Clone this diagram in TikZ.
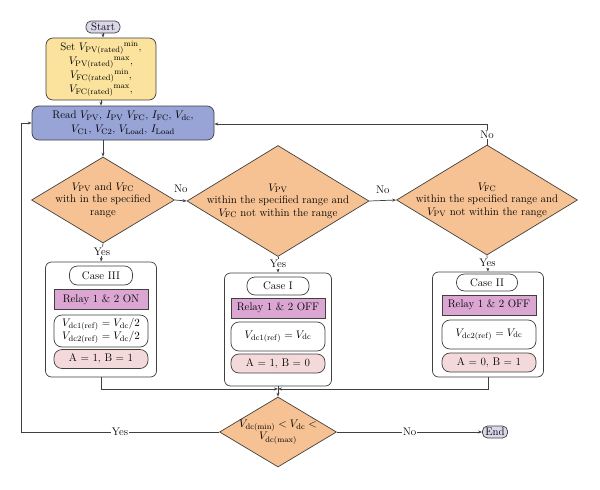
\documentclass[tikz,border=0pt]{standalone}
\usepackage{amsmath}
\usepackage{amssymb}
\usepackage{tikz}
\usetikzlibrary{shapes.geometric,arrows.meta,positioning}

\definecolor{termlav}{HTML}{DCD6EA}
\definecolor{setyellow}{HTML}{FBE39E}
\definecolor{readblue}{HTML}{98A3D6}
\definecolor{decorange}{HTML}{F6C293}
\definecolor{relaypink}{HTML}{DBA6D2}
\definecolor{abpink}{HTML}{F3D9D9}

\begin{document}
\begin{tikzpicture}[x=1pt,y=-1pt,font=\fontsize{11}{12.5}\selectfont,
	line/.style={draw=black!75,line width=0.7pt},
	arr/.style={line,-{Stealth[length=4pt,width=3pt]}},
	term/.style={line,fill=termlav,rounded corners=5pt,minimum width=34pt,minimum height=12pt,inner sep=0pt},
	dec/.style={line,diamond,fill=decorange,inner sep=0pt},
	dtext/.style={align=center,inner sep=0pt},
	casebox/.style={line,rounded corners=6pt,fill=white},
	caselbl/.style={line,rounded corners=8pt,inner sep=0pt},
	relay/.style={line,fill=relaypink,inner sep=0pt,minimum width=94pt,minimum height=20pt},
	eqbox/.style={line,rounded corners=8pt,inner sep=0pt,minimum width=94pt,align=center},
	abbox/.style={line,fill=abpink,rounded corners=8pt,inner sep=0pt,minimum width=94pt,minimum height=19pt},
	lbl/.style={fill=white,inner sep=1pt}]
	\useasboundingbox (0,0) rectangle (600,490);
	
	% Start, settings, reading
	\node[term] (start) at (103,27) {Start};
	\node[line,fill=setyellow,rounded corners=7pt,minimum width=110pt,minimum height=62pt,inner sep=0pt,align=center,font=\fontsize{11}{14}\selectfont] (set) at (101,69)
		{Set $V_{\mathrm{PV(rated)}}{}^{\mathrm{min}}$,\\ $V_{\mathrm{PV(rated)}}{}^{\mathrm{max}}$,\\ $V_{\mathrm{FC(rated)}}{}^{\mathrm{min}}$,\\ $V_{\mathrm{FC(rated)}}{}^{\mathrm{max}}$,};
	\node[line,fill=readblue,rounded corners=7pt,minimum width=182pt,minimum height=34pt,inner sep=0pt,align=center,font=\fontsize{11}{14}\selectfont] (read) at (123,123)
		{Read $V_{\mathrm{PV}}$, $I_{\mathrm{PV}}$ $V_{\mathrm{FC}}$, $I_{\mathrm{FC}}$, $V_{\mathrm{dc}}$,\\ $V_{\mathrm{C1}}$, $V_{\mathrm{C2}}$, $V_{\mathrm{Load}}$, $I_{\mathrm{Load}}$};
	
	% Decisions
	\node[dec,minimum width=143pt,minimum height=86pt] (d1) at (103,200) {};
	\node[dtext] at (d1) {$V_{\mathrm{PV}}$ and $V_{\mathrm{FC}}$\\ with in the specified\\ range};
	\node[dec,minimum width=182pt,minimum height=111pt] (d2) at (278,201) {};
	\node[dtext] at (d2) {$V_{\mathrm{PV}}$\\ within the specified range and\\ $V_{\mathrm{FC}}$ not within the range};
	\node[dec,minimum width=181pt,minimum height=110pt] (d3) at (487,200) {};
	\node[dtext] at (d3) {$V_{\mathrm{FC}}$\\ within the specified range and\\ $V_{\mathrm{PV}}$ not within the range};
	
	% Case III
	\node[casebox,minimum width=111pt,minimum height=115pt] (c3) at (101,319.5) {};
	\node[caselbl,minimum width=63pt,minimum height=19pt] (c3name) at (101,275.5) {Case III};
	\node[relay] (c3relay) at (101,299.5) {Relay 1 \& 2 ON};
	\node[eqbox,minimum height=32pt] (c3eq) at (101,331) {$V_{\mathrm{dc1(ref)}} = V_{\mathrm{dc}}/2$\\ $V_{\mathrm{dc2(ref)}} = V_{\mathrm{dc}}/2$};
	\node[abbox] (c3ab) at (101,359) {A = 1, B = 1};
	
	% Case I
	\node[casebox,minimum width=107pt,minimum height=113pt] (c1) at (278,329.5) {};
	\node[caselbl,minimum width=62pt,minimum height=18pt] (c1name) at (278,286) {Case I};
	\node[relay] (c1relay) at (278,308) {Relay 1 \& 2 OFF};
	\node[eqbox,minimum height=29pt] (c1eq) at (278,336.5) {$V_{\mathrm{dc1(ref)}} = V_{\mathrm{dc}}$};
	\node[abbox] (c1ab) at (278,363.5) {A = 1, B = 0};
	
	% Case II
	\node[casebox,minimum width=111pt,minimum height=105pt] (c2) at (488,324.5) {};
	\node[caselbl,minimum width=61pt,minimum height=17pt] (c2name) at (487,282.5) {Case II};
	\node[relay] (c2relay) at (489,305) {Relay 1 \& 2 OFF};
	\node[eqbox,minimum height=29pt] (c2eq) at (489,334.5) {$V_{\mathrm{dc2(ref)}} = V_{\mathrm{dc}}$};
	\node[abbox] (c2ab) at (489,362.5) {A = 0, B = 1};
	
	% Final check and end
	\node[dec,minimum width=117pt,minimum height=70pt] (fin) at (278,432) {};
	\node[dtext] at (fin) {$V_{\mathrm{dc(min)}} < V_{\mathrm{dc}} <$\\ $V_{\mathrm{dc(max)}}$};
	\node[term,minimum width=25pt,minimum height=12pt] (end) at (495,432) {End};
	\coordinate (merge) at (278,389);
	\coordinate (loopb) at (21,432);
	\coordinate (loopt) at (21,123);
	\coordinate (back) at (487,124);
	
	% Connectors
	\draw[arr] (start.south) -- (start.south |- set.north);
	\draw[arr] (set.south) -- (set.south |- read.north);
	\draw[arr] (d1.north |- read.south) -- (d1.north);
	\draw[arr] (d1.east) -- node[above=4pt] {No} (d2.west);
	\draw[arr] (d2.east) -- node[above=3pt] {No} (d3.west);
	\draw[arr] (d3.north) -- node[lbl] {No} (back) -- (back -| read.east);
	\draw[arr] (d1.south) -- node[lbl,pos=0.45] {Yes} (c3.north);
	\draw[arr] (d2.south) -- node[lbl,pos=0.45] {Yes} (c1.north);
	\draw[arr] (d3.south) -- node[lbl,pos=0.45] {Yes} (c2.north);
	\draw[arr] (c3.south) -- (c3.south |- merge) -- (merge);
	\draw[arr] (c2.south) -- (c2.south |- merge) -- (merge);
	\draw[line] (c1.south) -- (merge);
	\draw[arr] (merge) -- (fin.north);
	\draw[arr] (fin.west) -- node[lbl] {Yes} (loopb) -- (loopt) -- (read.west);
	\draw[arr] (fin.east) -- node[lbl] {No} (end.west);
\end{tikzpicture}
\end{document}
